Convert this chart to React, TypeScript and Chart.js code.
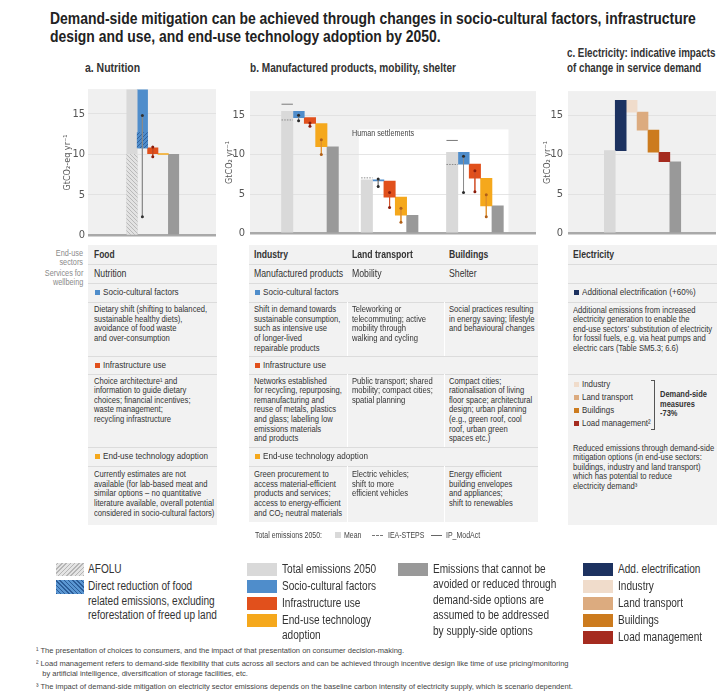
import React, { useEffect, useRef } from 'react';
import { Chart, registerables } from 'chart.js';
Chart.register(...registerables);

const SANS = '"Liberation Sans", Arial, sans-serif';
const CANVAS_FONT = '"DejaVu Sans Condensed", "Liberation Sans", sans-serif';

// ---------------- DATA ----------------
// a. Nutrition (GtCO2-eq yr-1)
const nutritionSteps = ['Total emissions 2050', 'Socio-cultural factors', 'Infrastructure use', 'End-use technology adoption', 'Remaining'];
const nutritionTotal = 18.2;
const nutritionAfolu = 10.0;
const nutritionSocio: [number, number] = [18.2, 10.8];
const nutritionSocioDirect: [number, number] = [12.7, 10.8];
const nutritionInfra: [number, number] = [10.8, 10.1];
const nutritionTech: [number, number] = [10.1, 10.0];
const nutritionRemaining = 10.0;
const nutritionSocioRange: [number, number] = [14.8, 2.3];
const nutritionInfraRange: [number, number] = [10.9, 9.7];

// b. Manufactured products, mobility, shelter (GtCO2 yr-1)
const sectorsB = ['Industry', 'Land transport', 'Buildings'];
const totalB = [15.5, 6.8, 10.3];
const socioB: [number, number][] = [[15.5, 14.7], [6.8, 6.65], [10.3, 8.8]];
const infraB: [number, number][] = [[14.7, 13.95], [6.65, 4.6], [8.8, 7.0]];
const techB: [number, number][] = [[13.95, 11.0], [4.6, 2.3], [7.0, 3.5]];
const remainingB = [11.0, 2.3, 3.5];
const socioRangeB: [number, number][] = [[15.0, 14.3], [6.9, 5.95], [9.8, 5.2]];
const infraRangeB: [number, number][] = [[14.0, 13.6], [5.2, 3.3], [7.95, 5.3]];
const techRangeB: [number, number][] = [[11.9, 10.0], [3.2, 1.4], [4.9, 2.1]];
const ieaStepsB: (number | null)[] = [14.4, 7.05, 8.75];
const ipModActB: (number | null)[] = [16.4, null, 11.8];

// c. Electricity (GtCO2 yr-1)
const elecSteps = ['Total emissions 2050', 'Add. electrification', 'Industry', 'Land transport', 'Buildings', 'Load management', 'Remaining'];
const elecTotal = 10.5;
const elecChanges: [number, number][] = [[10.5, 16.9], [16.9, 15.4], [15.4, 13.1], [13.1, 10.3], [10.3, 9.1]];
const elecRemaining = 9.1;

const yTickStep = 5;
const yMax = 18;

// ---------------- STYLE ----------------
const C = {
  panel: '#f0f0f0',
  table: '#f2f2f2',
  sep: '#dcdcdc',
  total: '#d9d9d9',
  rest: '#999999',
  socio: '#4f8dcb',
  infra: '#e1501c',
  tech: '#f5a81c',
  elec: '#1d3260',
  ind: '#f0dccb',
  land: '#dcab7f',
  bld: '#cc7b1e',
  load: '#a52b1f',
  text: '#333333',
};
const elecColors = [C.elec, C.ind, C.land, C.bld, C.load];
const GROUP_OFFSETS_B = [0, 7, 14.5];

function hatch(base: string, line: string, dir: 1 | -1) {
  const s = 4;
  const c = document.createElement('canvas');
  c.width = s; c.height = s;
  const g = c.getContext('2d')!;
  g.fillStyle = base; g.fillRect(0, 0, s, s);
  g.strokeStyle = line; g.lineWidth = 0.9;
  g.beginPath();
  if (dir === 1) {
    g.moveTo(0, s); g.lineTo(s, 0);
    g.moveTo(-1, 1); g.lineTo(1, -1);
    g.moveTo(s - 1, s + 1); g.lineTo(s + 1, s - 1);
  } else {
    g.moveTo(0, 0); g.lineTo(s, s);
    g.moveTo(-1, s - 1); g.lineTo(1, s + 1);
    g.moveTo(s - 1, -1); g.lineTo(s + 1, 1);
  }
  g.stroke();
  return g.createPattern(c, 'repeat')!;
}

function bar(label: string, points: { x: number; y: [number, number] }[], color: any, order = 3) {
  return {
    type: 'bar', label, data: points, backgroundColor: color, borderWidth: 0,
    grouped: false, barPercentage: 1, categoryPercentage: 1, order,
  };
}
function whisker(x: number, r: [number, number], line: string, dot: string) {
  return {
    type: 'line', data: [{ x, y: r[0] }, { x, y: r[1] }], borderColor: line, borderWidth: 0.8,
    pointRadius: 1.5, pointBackgroundColor: dot, pointBorderWidth: 0, order: 0,
  };
}
function refLine(x: number, y: number, dashed: boolean) {
  return {
    type: 'line', data: [{ x: x - 0.5, y }, { x: x + 0.5, y }], borderColor: dashed ? '#8a8a8a' : '#7a7a7a',
    borderWidth: 1, borderDash: dashed ? [1.5, 1.2] : [], pointRadius: 0, order: 1,
  };
}

type Spec = {
  left: number; top: number; width: number; height: number;
  xMin: number; xMax: number; padRight: number; tickPad: number; yTitle: string;
  datasets: () => any[];
  box?: { x0: number; x1: number; y1: number };
};

function Waterfall({ spec }: { spec: Spec }) {
  const ref = useRef<HTMLCanvasElement>(null);
  useEffect(() => {
    const bg = {
      id: 'panelBg',
      beforeDraw(chart: any) {
        const { ctx, chartArea: a, scales } = chart;
        ctx.save();
        ctx.fillStyle = C.panel;
        ctx.fillRect(a.left, a.top - 0.5, a.right - a.left, a.bottom - a.top + 0.5);
        if (spec.box) {
          const x0 = scales.x.getPixelForValue(spec.box.x0);
          const x1 = scales.x.getPixelForValue(spec.box.x1);
          const y1 = scales.y.getPixelForValue(spec.box.y1);
          const y0 = scales.y.getPixelForValue(0);
          ctx.fillStyle = '#ffffff';
          ctx.fillRect(x0, y1, x1 - x0, y0 - y1);
        }
        ctx.restore();
      },
    };
    const chart = new Chart(ref.current!, {
      type: 'bar',
      data: { datasets: spec.datasets() as any },
      options: {
        animation: false,
        responsive: false,
        maintainAspectRatio: false,
        layout: { padding: { top: 4, right: spec.padRight, bottom: 7, left: 0 } },
        plugins: { legend: { display: false }, tooltip: { enabled: false } },
        scales: {
          x: {
            type: 'linear', min: spec.xMin, max: spec.xMax, display: false,
            ticks: { stepSize: 1, includeBounds: false }, grid: { display: false },
          },
          y: {
            min: 0, max: yMax,
            afterFit: (s: any) => { s.width = 28; },
            ticks: {
              stepSize: yTickStep, includeBounds: false, padding: spec.tickPad,
              color: '#555', font: { family: CANVAS_FONT, size: 11 },
            },
            grid: {
              drawTicks: false,
              color: (c: any) => (c.tick && c.tick.value === 0 ? '#a9a9a9' : '#dedede'),
              lineWidth: (c: any) => (c.tick && c.tick.value === 0 ? 2.5 : 0.8),
            },
            border: { display: false },
            title: {
              display: true, text: spec.yTitle, color: '#555', padding: { top: 2, bottom: 0 },
              font: { family: CANVAS_FONT, size: 9 },
            },
          },
        },
      } as any,
      plugins: [bg],
    });
    return () => chart.destroy();
  }, []);
  return (
    <canvas ref={ref} width={spec.width} height={spec.height}
      style={{ position: 'absolute', left: spec.left, top: spec.top, width: spec.width, height: spec.height }} />
  );
}

const specA: Spec = {
  left: 60, top: 80, width: 160, height: 165, xMin: -3, xMax: 6.85, padRight: 3, tickPad: 3,
  yTitle: 'GtCO₂-eq yr⁻¹',
  datasets: () => {
    const afolu = hatch('#e2e2e2', '#b4b4b4', -1);
    const direct = hatch(C.socio, '#2b5c98', 1);
    const i = (name: string) => nutritionSteps.indexOf(name);
    return [
      whisker(i('Socio-cultural factors'), nutritionSocioRange, '#8a8a8a', '#333'),
      whisker(i('Infrastructure use'), nutritionInfraRange, '#c24a22', '#8a1d0c'),
      bar('AFOLU', [{ x: i('Total emissions 2050'), y: [0, nutritionAfolu] }], afolu, 2),
      bar('Direct reduction', [{ x: i('Socio-cultural factors'), y: nutritionSocioDirect }], direct, 2),
      bar('Total emissions 2050', [{ x: i('Total emissions 2050'), y: [0, nutritionTotal] }], C.total),
      bar('Socio-cultural factors', [{ x: i('Socio-cultural factors'), y: nutritionSocio }], C.socio),
      bar('Infrastructure use', [{ x: i('Infrastructure use'), y: nutritionInfra }], C.infra),
      bar('End-use technology adoption', [{ x: i('End-use technology adoption'), y: nutritionTech }], C.tech),
      bar('Remaining', [{ x: i('Remaining'), y: [0, nutritionRemaining] }], C.rest),
    ];
  },
};

const specB: Spec = {
  left: 222, top: 80, width: 318, height: 165, xMin: -1.7, xMax: 20.3, padRight: 2, tickPad: 5,
  yTitle: 'GtCO₂ yr⁻¹',
  box: { x0: GROUP_OFFSETS_B[1] - 0.7, x1: GROUP_OFFSETS_B[2] + 4.95, y1: 13.2 },
  datasets: () => {
    const o = GROUP_OFFSETS_B;
    const ds: any[] = [];
    sectorsB.forEach((_, k) => {
      ds.push(whisker(o[k] + 1, socioRangeB[k], '#8a8a8a', '#2a2a2a'));
      ds.push(whisker(o[k] + 2, infraRangeB[k], '#d2502a', '#8a1d0c'));
      ds.push(whisker(o[k] + 3, techRangeB[k], '#e0902c', '#b0601a'));
      if (ieaStepsB[k] != null) ds.push(refLine(o[k], ieaStepsB[k] as number, true));
      if (ipModActB[k] != null) ds.push(refLine(o[k], ipModActB[k] as number, false));
    });
    ds.push(bar('Total emissions 2050', totalB.map((v, k) => ({ x: o[k], y: [0, v] as [number, number] })), C.total));
    ds.push(bar('Socio-cultural factors', socioB.map((v, k) => ({ x: o[k] + 1, y: v })), C.socio));
    ds.push(bar('Infrastructure use', infraB.map((v, k) => ({ x: o[k] + 2, y: v })), C.infra));
    ds.push(bar('End-use technology adoption', techB.map((v, k) => ({ x: o[k] + 3, y: v })), C.tech));
    ds.push(bar('Remaining', remainingB.map((v, k) => ({ x: o[k] + 4, y: [0, v] as [number, number] })), C.rest));
    return ds;
  },
};

const specC: Spec = {
  left: 540, top: 80, width: 178, height: 165, xMin: -2.7, xMax: 8.6, padRight: 2, tickPad: 5,
  yTitle: 'GtCO₂ yr⁻¹',
  datasets: () => [
    bar('Total emissions 2050', [{ x: 0, y: [0, elecTotal] }], C.total),
    ...elecChanges.map((v, k) => bar(elecSteps[k + 1], [{ x: k + 1, y: v }], elecColors[k])),
    bar('Remaining', [{ x: elecSteps.length - 1, y: [0, elecRemaining] }], C.rest),
  ],
};

// ---------------- LAYOUT HELPERS ----------------
// Text block: y is the centre of the first line; k compresses the glyphs horizontally (narrow face).
function T({ x, y, size = 8, lh, bold, color = C.text, align, k = 0.84, children }: any) {
  const L = lh || size * 1.2;
  const style: any = {
    position: 'absolute', top: y - L / 2, fontSize: size, lineHeight: L + 'px',
    fontWeight: bold ? 700 : 400, color, whiteSpace: 'pre', transform: `scaleX(${k})`,
  };
  if (align === 'right') { style.right = 724 - x; style.textAlign = 'right'; style.transformOrigin = 'right top'; }
  else { style.left = x; style.transformOrigin = 'left top'; }
  return <div style={style}>{children}</div>;
}
function Sq({ x, y, s = 5, c }: any) {
  return <div style={{ position: 'absolute', left: x, top: y - s / 2, width: s, height: s, background: c }} />;
}
function Rect({ x, y, w, h, bg, style }: any) {
  return <div style={{ position: 'absolute', left: x, top: y, width: w, height: h, background: bg, ...style }} />;
}

const ROW_SEPS = [264, 283, 302, 356, 374, 447, 466];
const DESC_LH = 9.6;
const BODY = 8.6;
const BODY_K = 0.89;
const HEAD = 9;
const HEAD_K = 0.9;

const foodSocio = 'Dietary shift (shifting to balanced,\nsustainable healthy diets),\navoidance of food waste\nand over-consumption';
const foodInfra = 'Choice architecture¹ and\ninformation to guide dietary\nchoices; financial incentives;\nwaste management;\nrecycling infrastructure';
const foodTech = 'Currently estimates are not\navailable (for lab-based meat and\nsimilar options – no quantitative\nliterature available, overall potential\nconsidered in socio-cultural factors)';

const bCols = [
  {
    x: 254, head: 'Industry', service: 'Manufactured products',
    socio: 'Shift in demand towards\nsustainable consumption,\nsuch as intensive use\nof longer-lived\nrepairable products',
    infra: 'Networks established\nfor recycling, repurposing,\nremanufacturing and\nreuse of metals, plastics\nand glass; labelling low\nemissions materials\nand products',
    tech: 'Green procurement to\naccess material-efficient\nproducts and services;\naccess to energy-efficient\nand CO₂ neutral materials',
  },
  {
    x: 352, head: 'Land transport', service: 'Mobility',
    socio: 'Teleworking or\ntelecommuting; active\nmobility through\nwalking and cycling',
    infra: 'Public transport; shared\nmobility; compact cities;\nspatial planning',
    tech: 'Electric vehicles;\nshift to more\nefficient vehicles',
  },
  {
    x: 449, head: 'Buildings', service: 'Shelter',
    socio: 'Social practices resulting\nin energy saving; lifestyle\nand behavioural changes',
    infra: 'Compact cities;\nrationalisation of living\nfloor space; architectural\ndesign; urban planning\n(e.g., green roof, cool\nroof, urban green\nspaces etc.)',
    tech: 'Energy efficient\nbuilding envelopes\nand appliances;\nshift to renewables',
  },
];

const elecDescAdd = 'Additional emissions from increased\nelectricity generation to enable the\nend-use sectors’ substitution of electricity\nfor fossil fuels, e.g. via heat pumps and\nelectric cars (Table SM5.3; 6.6)';
const elecDescRed = 'Reduced emissions through demand-side\nmitigation options (in end-use sectors:\nbuildings, industry and land transport)\nwhich has potential to reduce\nelectricity demand³';
const elecList = ['Industry', 'Land transport', 'Buildings', 'Load management²'];

const footnotes = [
  '¹ The presentation of choices to consumers, and the impact of that presentation on consumer decision-making.',
  '² Load management refers to demand-side flexibility that cuts across all sectors and can be achieved through incentive design like time of use pricing/monitoring\n   by artificial intelligence, diversification of storage facilities, etc.',
  '³ The impact of demand-side mitigation on electricity sector emissions depends on the baseline carbon intensity of electricity supply, which is scenario dependent.',
];

const AFOLU_CSS = 'repeating-linear-gradient(-45deg, #b5b5b5 0 1px, #e4e4e4 1px 3px)';
const DIRECT_CSS = 'repeating-linear-gradient(45deg, #2b5c98 0 1px, #5a96d2 1px 3px)';

function Seps({ x, w, ys }: any) {
  return <>{ys.map((y: number) => <Rect key={y} x={x} y={y - 0.5} w={w} h={1} bg={C.sep} />)}</>;
}

const LEG = 12;
const LEG_K = 0.84;
const FOOT_K = 0.94;

export default function App() {
  return (
    <div style={{ position: 'absolute', left: 0, top: 0, width: 724, height: 693, background: '#fff', fontFamily: SANS, color: C.text, overflow: 'hidden' }}>
      {/* Title */}
      <T x={50} y={19} size={16} lh={18} bold k={0.87} color="#222">{'Demand-side mitigation can be achieved through changes in socio-cultural factors, infrastructure\ndesign and use, and end-use technology adoption by 2050.'}</T>
      <T x={85} y={68} size={12} bold k={0.87} color="#333">a. Nutrition</T>
      <T x={250} y={68} size={12} bold k={0.84} color="#333">b. Manufactured products, mobility, shelter</T>
      <T x={567} y={53} size={12} lh={15} bold k={0.815} color="#333">{'c. Electricity: indicative impacts\nof change in service demand'}</T>

      <Waterfall spec={specA} />
      <Waterfall spec={specB} />
      <Waterfall spec={specC} />
      <T x={352} y={133} size={9} k={0.8} color="#444">Human settlements</T>

      {/* Row labels */}
      <T x={83} y={253.5} size={8.6} lh={9.5} align="right" k={0.85} color="#8a8a8a">{'End-use\nsectors'}</T>
      <T x={83} y={273.5} size={8.6} lh={9.5} align="right" k={0.85} color="#8a8a8a">{'Services for\nwellbeing'}</T>

      {/* Food table */}
      <Rect x={88} y={245} w={129} h={280} bg={C.table} />
      <Seps x={88} w={129} ys={ROW_SEPS} />
      <T x={94} y={254.5} size={10.5} bold k={0.8}>Food</T>
      <T x={94} y={273.5} size={10.5} k={0.83}>Nutrition</T>
      <Sq x={94.5} y={292.5} c={C.socio} />
      <T x={102.5} y={292.5} size={HEAD} k={HEAD_K}>Socio-cultural factors</T>
      <T x={94} y={310} size={BODY} lh={DESC_LH} k={BODY_K}>{foodSocio}</T>
      <Sq x={94.5} y={365} c={C.infra} />
      <T x={102.5} y={365} size={HEAD} k={HEAD_K}>Infrastructure use</T>
      <T x={94} y={381.5} size={BODY} lh={DESC_LH} k={BODY_K}>{foodInfra}</T>
      <Sq x={94.5} y={456.5} c={C.tech} />
      <T x={102.5} y={456.5} size={HEAD} k={HEAD_K}>End-use technology adoption</T>
      <T x={94} y={475} size={BODY} lh={DESC_LH} k={BODY_K}>{foodTech}</T>

      {/* Sector table */}
      <Rect x={249} y={245} w={289} h={277} bg={C.table} />
      <Seps x={249} w={289} ys={ROW_SEPS} />
      {[[302, 356], [374, 447], [466, 522]].map(([a, b]) =>
        [347, 444].map((x) => <Rect key={a + '-' + x} x={x} y={a} w={1.2} h={b - a} bg="#ffffff" />))}
      {bCols.map((c) => (
        <React.Fragment key={c.head}>
          <T x={c.x} y={254.5} size={10.5} bold k={0.82}>{c.head}</T>
          <T x={c.x} y={273.5} size={10.5} k={0.83}>{c.service}</T>
          <T x={c.x} y={310} size={BODY} lh={DESC_LH} k={BODY_K}>{c.socio}</T>
          <T x={c.x} y={381.5} size={BODY} lh={DESC_LH} k={BODY_K}>{c.infra}</T>
          <T x={c.x} y={475} size={BODY} lh={DESC_LH} k={BODY_K}>{c.tech}</T>
        </React.Fragment>
      ))}
      <Sq x={254.5} y={292.5} c={C.socio} />
      <T x={262.5} y={292.5} size={HEAD} k={HEAD_K}>Socio-cultural factors</T>
      <Sq x={254.5} y={365} c={C.infra} />
      <T x={262.5} y={365} size={HEAD} k={HEAD_K}>Infrastructure use</T>
      <Sq x={254.5} y={456.5} c={C.tech} />
      <T x={262.5} y={456.5} size={HEAD} k={HEAD_K}>End-use technology adoption</T>

      {/* Total emissions legend */}
      <T x={255} y={535} size={8.5} k={0.82} color="#444">Total emissions 2050:</T>
      <Sq x={335} y={535} s={6} c={C.total} />
      <T x={344} y={535} size={8.5} k={0.82} color="#444">Mean</T>
      <Rect x={372} y={534.5} w={11} h={0} style={{ borderTop: '1px dashed #777' }} />
      <T x={388} y={535} size={8.5} k={0.82} color="#444">IEA-STEPS</T>
      <Rect x={431} y={534.5} w={11} h={1} bg="#666" />
      <T x={446} y={535} size={8.5} k={0.82} color="#444">IP_ModAct</T>

      {/* Electricity table */}
      <Rect x={568} y={245} w={149} h={280} bg={C.table} />
      <Seps x={568} w={149} ys={[264, 283, 302, 374]} />
      <T x={573} y={254.5} size={10.5} bold k={0.82}>Electricity</T>
      <Sq x={574} y={292.5} c={C.elec} />
      <T x={582} y={292.5} size={HEAD} k={HEAD_K}>Additional electrification (+60%)</T>
      <T x={573} y={310.5} size={BODY} lh={DESC_LH} k={BODY_K}>{elecDescAdd}</T>
      {elecList.map((t, k) => (
        <React.Fragment key={t}>
          <Sq x={574} y={384 + k * 13.2} c={elecColors[k + 1]} />
          <T x={582} y={384 + k * 13.2} size={9} k={0.88}>{t}</T>
        </React.Fragment>
      ))}
      <Rect x={651} y={380} w={3} h={48} style={{ borderTop: '1px solid #555', borderRight: '1px solid #555', borderBottom: '1px solid #555' }} />
      <T x={660} y={395} size={9} lh={9.6} bold k={0.83}>{'Demand-side\nmeasures\n-73%'}</T>
      <T x={573} y={448.5} size={BODY} lh={DESC_LH} k={BODY_K}>{elecDescRed}</T>

      {/* Bottom legend */}
      <Rect x={56} y={563} w={28} h={13} bg={AFOLU_CSS} />
      <T x={88} y={569.5} size={LEG} k={LEG_K}>AFOLU</T>
      <Rect x={56} y={580} w={28} h={14} bg={DIRECT_CSS} />
      <T x={88} y={586.5} size={LEG} lh={14.5} k={LEG_K}>{'Direct reduction of food\nrelated emissions, excluding\nreforestation of freed up land'}</T>

      {[C.total, C.socio, C.infra, C.tech].map((c, k) => (
        <Rect key={c} x={247} y={563 + k * 17} w={30} h={13} bg={c} />
      ))}
      <T x={282} y={569.5} size={LEG} k={LEG_K}>Total emissions 2050</T>
      <T x={282} y={586.5} size={LEG} k={LEG_K}>Socio-cultural factors</T>
      <T x={282} y={603.5} size={LEG} k={LEG_K}>Infrastructure use</T>
      <T x={282} y={620.5} size={LEG} lh={14.5} k={LEG_K}>{'End-use technology\nadoption'}</T>

      <Rect x={398} y={563} w={30} h={13} bg={C.rest} />
      <T x={433} y={569.5} size={LEG} lh={15.5} k={LEG_K}>{'Emissions that cannot be\navoided or reduced through\ndemand-side options are\nassumed to be addressed\nby supply-side options'}</T>

      {elecColors.map((c, k) => (
        <Rect key={c} x={583} y={563 + k * 17} w={30} h={13} bg={c} />
      ))}
      {['Add. electrification', 'Industry', 'Land transport', 'Buildings', 'Load management'].map((t, k) => (
        <T key={t} x={618} y={569.5 + k * 17} size={LEG} k={LEG_K}>{t}</T>
      ))}

      {/* Footnotes */}
      <T x={36} y={651} size={8} k={FOOT_K} color="#444">{footnotes[0]}</T>
      <T x={36} y={664} size={8} lh={10.5} k={FOOT_K} color="#444">{footnotes[1]}</T>
      <T x={36} y={687} size={8} k={FOOT_K} color="#444">{footnotes[2]}</T>
    </div>
  );
}
